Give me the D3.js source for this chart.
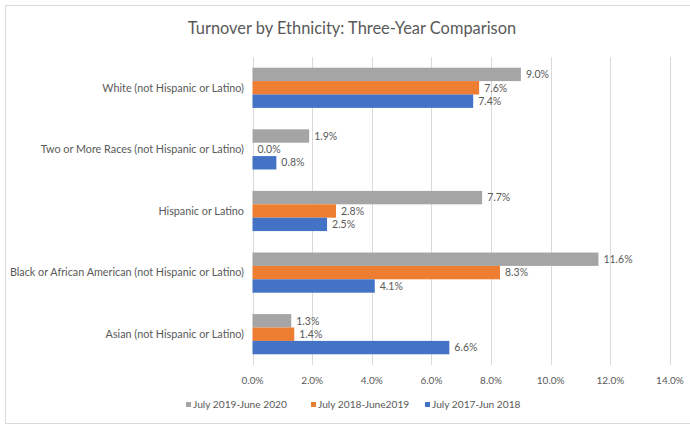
<!DOCTYPE html>
<html><head><meta charset="utf-8">
<script src="https://cdn.jsdelivr.net/npm/d3@7"></script>
<style>body{margin:0;background:#fff}svg{display:block}text{font-family:Lato,"Open Sans",sans-serif}</style>
</head><body><svg id="c" width="690" height="427"></svg>
<script>
const categories = ["White (not Hispanic or Latino)","Two or More Races (not Hispanic or Latino)","Hispanic or Latino","Black or African American (not Hispanic or Latino)","Asian (not Hispanic or Latino)"];
const seriesNames = ["July 2019-June 2020","July 2018-June2019","July 2017-Jun 2018"];
const s2020 = [9.0, 1.9, 7.7, 11.6, 1.3];
const s2019 = [7.6, 0.0, 2.8, 8.3, 1.4];
const s2018 = [7.4, 0.8, 2.5, 4.1, 6.6];
const ticks = [0,2,4,6,8,10,12,14];
const colors = ["#a5a5a5","#ed7d31","#4472c4"];
const series = [s2020, s2019, s2018];

const svg = d3.select("#c");
svg.append("rect").attr("x",5.5).attr("y",5.5).attr("width",690).attr("height",418).attr("fill","#fff").attr("stroke","#d9d9d9");
svg.append("text").attr("x",352).attr("y",34).attr("text-anchor","middle").attr("font-size",16.4).attr("fill","#595959").text("Turnover by Ethnicity: Three-Year Comparison");

const x = d3.scaleLinear().domain([0,14]).range([252.5,670]);
const y = d3.scaleBand().domain(categories).range([57,365]);
const inner = d3.scaleBand().domain([0,1,2]).range([0,y.bandwidth()]).paddingOuter(0.8);

svg.append("g").selectAll("line").data(ticks).join("line")
  .attr("x1",d=>Math.round(x(d))+0.5).attr("x2",d=>Math.round(x(d))+0.5).attr("y1",57).attr("y2",365)
  .attr("stroke","#d9d9d9");

svg.append("g").selectAll("text").data(ticks).join("text")
  .attr("x",d=>x(d)).attr("y",384).attr("text-anchor","middle").attr("font-size",10).attr("fill","#595959")
  .text(d=>d.toFixed(1)+"%");

svg.append("g").selectAll("text").data(categories).join("text")
  .attr("x",244).attr("y",d=>y(d)+y.bandwidth()/2+3.8).attr("text-anchor","end").attr("font-size",10.8).attr("fill","#595959")
  .text(d=>d);

series.forEach((vals,si)=>{
  const g = svg.append("g");
  g.selectAll("rect").data(vals).join("rect")
    .attr("x",x(0)).attr("y",(d,i)=>y(categories[i])+inner(si))
    .attr("width",d=>x(d)-x(0)).attr("height",inner.bandwidth()).attr("fill",colors[si]);
  g.selectAll("text").data(vals).join("text")
    .attr("x",d=>x(d)+5).attr("y",(d,i)=>y(categories[i])+inner(si)+inner.bandwidth()/2+3.7)
    .attr("font-size",10.5).attr("fill","#595959").text(d=>d.toFixed(1)+"%");
});

const legX = [186, 311, 425];
const lg = svg.append("g").selectAll("g").data(seriesNames).join("g").attr("transform",(d,i)=>`translate(${legX[i]},408)`);
lg.append("rect").attr("x",0).attr("y",-6).attr("width",5).attr("height",5).attr("fill",(d,i)=>colors[i]);
lg.append("text").attr("x",7).attr("y",0).attr("font-size",10.2).attr("fill","#595959").text(d=>d);
</script></body></html>
